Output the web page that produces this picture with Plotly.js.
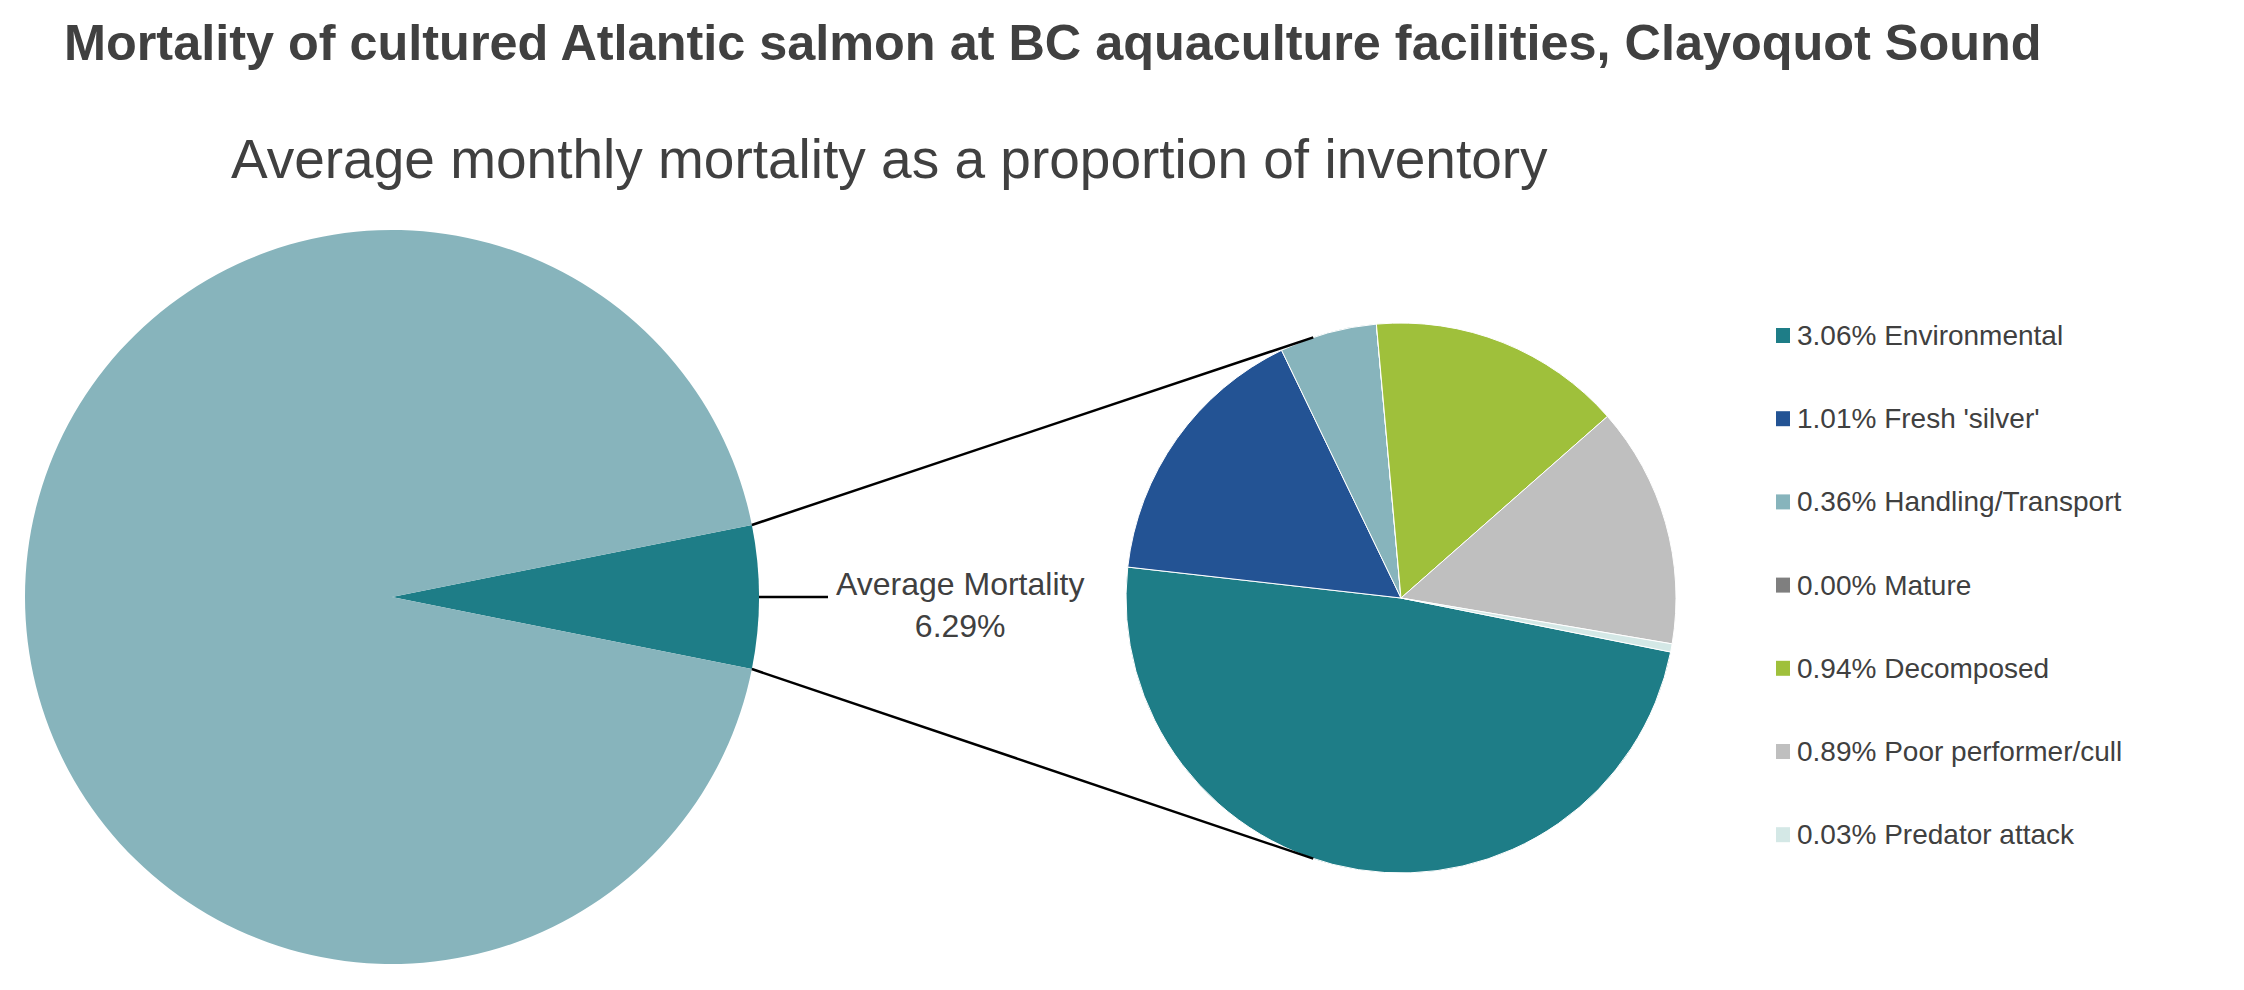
<!DOCTYPE html>
<html>
<head>
<meta charset="utf-8">
<script src="https://cdn.plot.ly/plotly-3.0.1.min.js"></script>
<style>
  html, body { margin: 0; padding: 0; background: #fff; }
  #chart { width: 2244px; height: 990px; }
</style>
</head>
<body>
<div id="chart"></div>
<script>
// Datos: mortalidad media mensual (% del inventario)
const overallLabels = ['Average Mortality', 'Remaining inventory'];
const overallValues = [6.29, 93.71];
const overallColors = ['#1E7D87', '#87B4BC'];

const causeLabels = ['Environmental', "Fresh 'silver'", 'Handling/Transport', 'Mature', 'Decomposed', 'Poor performer/cull', 'Predator attack'];
const causeValues = [3.06, 1.01, 0.36, 0.00, 0.94, 0.89, 0.03];
const causeColors = ['#1E7D87', '#235394', '#87B4BC', '#7F7F7F', '#9FC03B', '#BFBFBF', '#D4E8E6'];

const W = 2244, H = 990;
const FONT = 'Liberation Sans, Arial, sans-serif';
const TEXT = '#404040';

// Geometría de los dos pasteles (px)
const mainPie = { cx: 392, cy: 597, r: 367 };
const detailPie = { cx: 1401, cy: 598, r: 275 };

function domainFor(p) {
    return {
        x: [(p.cx - p.r) / W, (p.cx + p.r) / W],
        y: [1 - (p.cy + p.r) / H, 1 - (p.cy - p.r) / H]
    };
}
const px = x => x / W;
const py = y => 1 - y / H;

// punto sobre el borde, ángulo en grados desde las 12 en sentido horario
function edgePoint(p, deg) {
    const a = deg * Math.PI / 180;
    return [p.cx + p.r * Math.sin(a), p.cy - p.r * Math.cos(a)];
}

const overallTotal = overallValues.reduce((a, b) => a + b, 0);
const halfSpan = overallValues[0] / overallTotal * 180;

const traces = [
    {
        type: 'pie',
        labels: overallLabels,
        values: overallValues,
        marker: { colors: overallColors, line: { color: '#ffffff', width: 0 } },
        sort: false,
        direction: 'clockwise',
        rotation: 90 - halfSpan,
        textinfo: 'none',
        textposition: 'none',
        hoverinfo: 'label+value',
        showlegend: false,
        domain: domainFor(mainPie)
    },
    {
        type: 'pie',
        labels: causeLabels,
        values: causeValues,
        marker: { colors: causeColors, line: { color: '#ffffff', width: 1 } },
        sort: false,
        direction: 'clockwise',
        rotation: 90 + halfSpan,
        textinfo: 'none',
        textposition: 'none',
        hoverinfo: 'label+value',
        showlegend: false,
        domain: domainFor(detailPie)
    }
];

// Líneas de conexión entre los pasteles
const connectorSpread = 71.4;
const shapes = [];
const linePairs = [
    [edgePoint(mainPie, 90 - halfSpan), edgePoint(detailPie, 270 + connectorSpread)],
    [edgePoint(mainPie, 90 + halfSpan), edgePoint(detailPie, 270 - connectorSpread)]
];
linePairs.forEach(([a, b]) => {
    shapes.push({
        type: 'line', xref: 'paper', yref: 'paper',
        x0: px(a[0]), y0: py(a[1]), x1: px(b[0]), y1: py(b[1]),
        line: { color: '#000000', width: 2.5 }
    });
});
const leaderStart = edgePoint(mainPie, 90);
shapes.push({
    type: 'line', xref: 'paper', yref: 'paper',
    x0: px(leaderStart[0]), y0: py(leaderStart[1]), x1: px(828), y1: py(leaderStart[1]),
    line: { color: '#000000', width: 2.5 }
});

const annotations = [
    {
        text: '<b>Mortality of cultured Atlantic salmon at BC aquaculture facilities, Clayoquot Sound</b>',
        xref: 'paper', yref: 'paper', x: px(62), y: py(43), xanchor: 'left', yanchor: 'middle',
        showarrow: false, font: { family: FONT, size: 50.4, color: TEXT }
    },
    {
        text: 'Average monthly mortality as a proportion of inventory',
        xref: 'paper', yref: 'paper', x: px(889), y: py(159), xanchor: 'center', yanchor: 'middle',
        showarrow: false, font: { family: FONT, size: 55, color: TEXT }
    },
    {
        text: overallLabels[0] + '<br>' + overallValues[0].toFixed(2) + '%',
        xref: 'paper', yref: 'paper', x: px(960), y: py(605), xanchor: 'center', yanchor: 'middle',
        showarrow: false, font: { family: FONT, size: 32, color: TEXT }
    }
];

// Leyenda
const legendTop = 335.5, legendStep = 83.2;
causeLabels.forEach((label, i) => {
    const yc = legendTop + i * legendStep;
    shapes.push({
        type: 'rect', xref: 'paper', yref: 'paper',
        x0: px(1776), x1: px(1790), y0: py(yc - 7.5), y1: py(yc + 7.5),
        fillcolor: causeColors[i], line: { width: 0 }
    });
    annotations.push({
        text: causeValues[i].toFixed(2) + '% ' + label,
        xref: 'paper', yref: 'paper', x: px(1795), y: py(yc), xanchor: 'left', yanchor: 'middle',
        showarrow: false, font: { family: FONT, size: 28, color: TEXT }
    });
});

const layout = {
    width: W,
    height: H,
    margin: { t: 0, b: 0, l: 0, r: 0 },
    paper_bgcolor: '#ffffff',
    plot_bgcolor: '#ffffff',
    font: { family: FONT, color: TEXT },
    showlegend: false,
    shapes: shapes,
    annotations: annotations
};

Plotly.newPlot('chart', traces, layout, { displayModeBar: false, staticPlot: true });
</script>
</body>
</html>
